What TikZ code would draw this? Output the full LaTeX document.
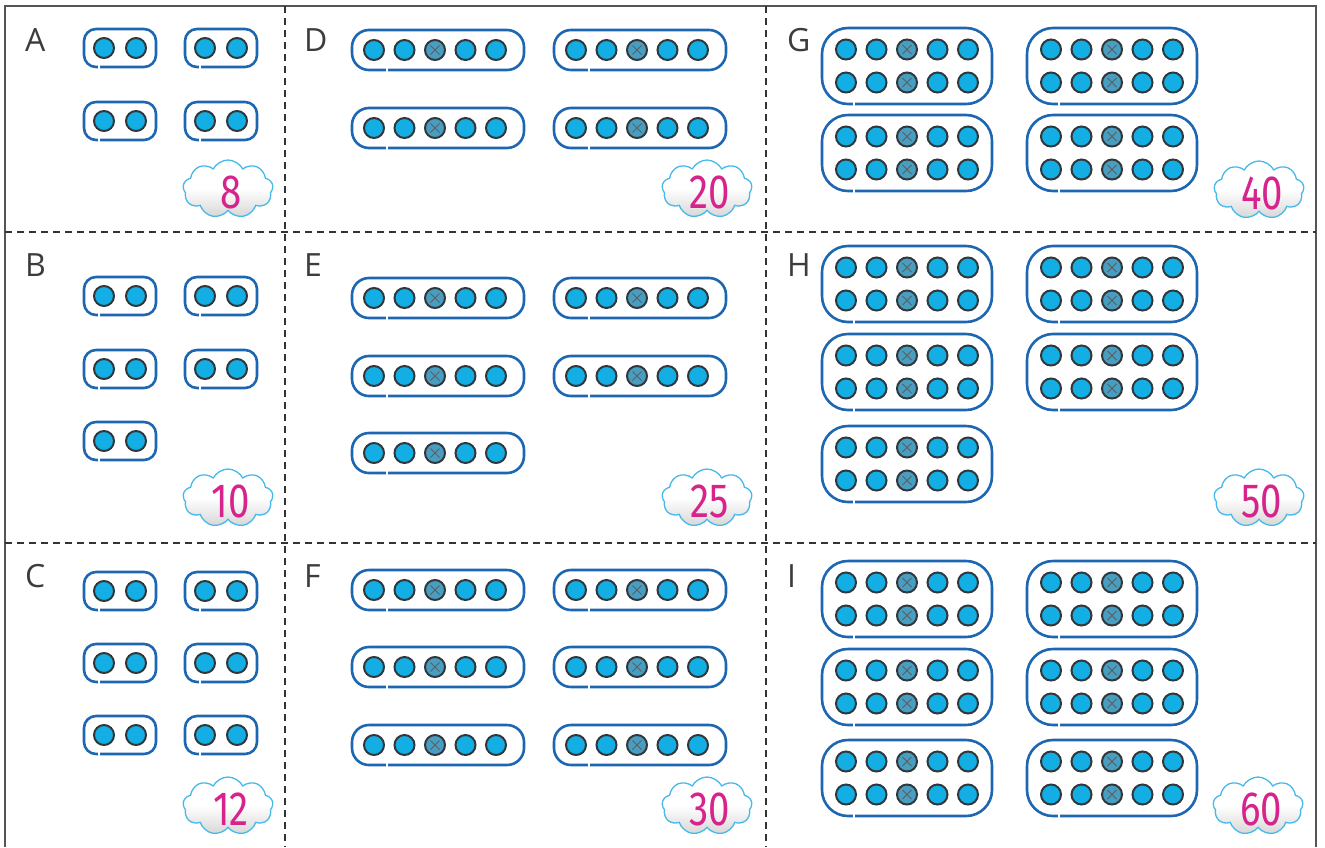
\documentclass[tikz,border=0pt]{standalone}
\usepackage{fontspec}
\setmainfont{Open Sans}
\newfontfamily\numfont{Fira Sans}
\usetikzlibrary{shapes.symbols}
\definecolor{ballc}{RGB}{18,174,228}
\definecolor{ballx}{RGB}{72,158,192}
\definecolor{ballline}{RGB}{50,55,60}
\definecolor{boxc}{RGB}{28,102,178}
\definecolor{cloudline}{RGB}{70,185,235}
\definecolor{numc}{RGB}{215,35,140}
\definecolor{framec}{RGB}{85,85,85}
\definecolor{letterc}{RGB}{60,60,60}
\tikzset{
  ball/.style={circle, minimum size=20pt, inner sep=0pt, fill=ballc, draw=ballline, line width=2pt},
  xball/.style={ball, fill=ballx, path picture={
      \draw[ballline!80, line width=0.8pt]
        ([shift={(-4.5pt,-4.5pt)}]path picture bounding box.center) -- ([shift={(4.5pt,4.5pt)}]path picture bounding box.center)
        ([shift={(-4.5pt,4.5pt)}]path picture bounding box.center) -- ([shift={(4.5pt,-4.5pt)}]path picture bounding box.center);}},
  boxline/.style={draw=boxc, line width=2.6pt},
  gapline/.style={draw=white, line width=2.5pt},
  pair/.pic={
    \draw[boxline, rounded corners=12pt] (-36,-19) rectangle (36,19);
    \draw[gapline] (-21,16) -- (-21,22);
    \node[ball] (-b1) at (-16,0) {};
    \node[ball] (-b2) at (16,0) {};
  },
  five/.pic={
    \draw[boxline, rounded corners=17pt] (-86,-20) rectangle (86,20);
    \draw[gapline] (-51,17) -- (-51,23);
    \foreach \i/\x in {1/-64,2/-33.5,4/27.5,5/58} \node[ball] (-b\i) at (\x,0) {};
    \node[xball] (-b3) at (-3,0) {};
  },
  ten/.pic={
    \draw[boxline, rounded corners=26pt] (-85,-38) rectangle (85,38);
    \draw[gapline] (-53,35) -- (-53,41);
    \foreach \r/\y in {t/-16.5,u/16.5}{
      \foreach \i/\x in {1/-61,2/-30.5,4/30.5,5/61} \node[ball] (-\r\i) at (\x,\y) {};
      \node[xball] (-\r3) at (0,\y) {};
    }
  },
  cloudy/.style={cloud, cloud puffs=9, cloud puff arc=125, aspect=1.5, minimum width=90pt, minimum height=58pt,
    inner sep=0pt, draw=cloudline, line width=1.3pt, top color=white, bottom color=black!16, middle color=white},
  num/.style={text=numc, font=\numfont\fontsize{48}{48}\selectfont, inner sep=0pt},
  lbl/.style={text=letterc, font=\fontsize{32}{32}\selectfont, inner sep=0pt, anchor=base west},
  frame/.style={draw=framec, line width=2.5pt},
  cut/.style={draw=black!80, line width=1.5pt, dash pattern=on 7pt off 5pt},
}
\newcommand{\cloudnum}[4]{%
  \node[cloudy] (#1) at (#2,#3) {};
  \node[num] (#1t) at ([xshift=3pt,yshift=-3pt]#1.center) {\scalebox{0.8}[1]{#4}};}
\begin{document}
\begin{tikzpicture}[x=1pt,y=-1pt]
\useasboundingbox (0,0) rectangle (1325,847);
% frame
\draw[frame] (5,847) -- (5,6) -- (1316,6) -- (1316,847);
% cut lines
\draw[cut] (285,6) -- (285,847);
\draw[cut] (766,6) -- (766,847);
\draw[cut] (5,232) -- (1316,232);
\draw[cut] (5,543) -- (1316,543);
% letters
\node[lbl] (lA) at (25,51) {A};
\node[lbl] (lB) at (25,276) {B};
\node[lbl] (lC) at (25,587) {C};
\node[lbl] (lD) at (304,51) {D};
\node[lbl] (lE) at (304,276) {E};
\node[lbl] (lF) at (304,587) {F};
\node[lbl] (lG) at (787,51) {G};
\node[lbl] (lH) at (787,276) {H};
\node[lbl] (lI) at (787,587) {I};
% A
\pic (a1) at (120,48) {pair};
\pic (a2) at (221,48) {pair};
\pic (a3) at (120,121) {pair};
\pic (a4) at (221,121) {pair};
% B
\pic (b1) at (120,296) {pair};
\pic (b2) at (221,296) {pair};
\pic (b3) at (120,369) {pair};
\pic (b4) at (221,369) {pair};
\pic (b5) at (120,441) {pair};
% C
\pic (c1) at (120,591) {pair};
\pic (c2) at (221,591) {pair};
\pic (c3) at (120,663) {pair};
\pic (c4) at (221,663) {pair};
\pic (c5) at (120,735) {pair};
\pic (c6) at (221,735) {pair};
% D
\pic (d1) at (438,50) {five};
\pic (d2) at (640,50) {five};
\pic (d3) at (438,128) {five};
\pic (d4) at (640,128) {five};
% E
\pic (e1) at (438,298) {five};
\pic (e2) at (640,298) {five};
\pic (e3) at (438,376) {five};
\pic (e4) at (640,376) {five};
\pic (e5) at (438,453) {five};
% F
\pic (f1) at (438,590) {five};
\pic (f2) at (640,590) {five};
\pic (f3) at (438,667) {five};
\pic (f4) at (640,667) {five};
\pic (f5) at (438,745) {five};
\pic (f6) at (640,745) {five};
% G
\pic (g1) at (907,66) {ten};
\pic (g2) at (1112,66) {ten};
\pic (g3) at (907,153) {ten};
\pic (g4) at (1112,153) {ten};
% H
\pic (h1) at (907,284) {ten};
\pic (h2) at (1112,284) {ten};
\pic (h3) at (907,372) {ten};
\pic (h4) at (1112,372) {ten};
\pic (h5) at (907,464) {ten};
% I
\pic (i1) at (907,599) {ten};
\pic (i2) at (1112,599) {ten};
\pic (i3) at (907,687) {ten};
\pic (i4) at (1112,687) {ten};
\pic (i5) at (907,778) {ten};
\pic (i6) at (1112,778) {ten};
% clouds
\cloudnum{cA}{228}{189}{8}
\cloudnum{cB}{228}{498}{10}
\cloudnum{cC}{228}{806}{12}
\cloudnum{cD}{707}{189}{20}
\cloudnum{cE}{707}{498}{25}
\cloudnum{cF}{707}{806}{30}
\cloudnum{cG}{1259}{190}{40}
\cloudnum{cH}{1259}{498}{50}
\cloudnum{cI}{1258}{806}{60}
\end{tikzpicture}
\end{document}
